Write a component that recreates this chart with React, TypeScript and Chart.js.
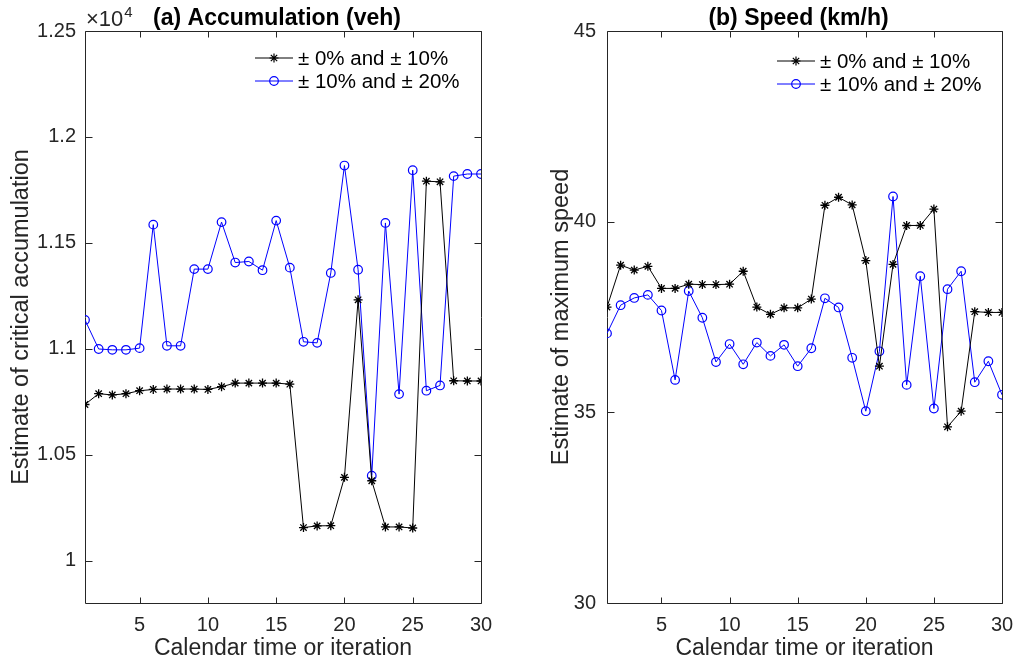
import React, { useEffect, useRef } from "react";
import { Chart, registerables } from "chart.js";
import { drawPoint } from "chart.js/helpers";

Chart.register(...registerables);

// Calendar time / iteration index
const iterations = [
  1, 2, 3, 4, 5, 6, 7, 8, 9, 10, 11, 12, 13, 14, 15,
  16, 17, 18, 19, 20, 21, 22, 23, 24, 25, 26, 27, 28, 29, 30,
];
const xTicks = [5, 10, 15, 20, 25, 30];

// (a) critical accumulation estimates (veh)
const accumNarrow = [
  10737, 10788, 10782, 10788, 10802, 10808, 10810, 10810, 10810, 10808,
  10821, 10838, 10838, 10838, 10838, 10833, 10156, 10164, 10165, 10393,
  11231, 10377, 10159, 10159, 10154, 11791, 11788, 10849, 10848, 10848,
];
const accumWide = [
  11136, 10999, 10995, 10995, 11003, 11586, 11014, 11014, 11376, 11376,
  11598, 11407, 11412, 11371, 11605, 11383, 11033, 11028, 11358, 11865,
  11373, 10401, 11594, 10786, 11843, 10802, 10827, 11815, 11825, 11825,
];
const accumTicks = [10000, 10500, 11000, 11500, 12000, 12500];

// (b) maximum speed estimates (km/h)
const speedNarrow = [
  37.76, 38.86, 38.73, 38.83, 38.25, 38.25, 38.36, 38.35, 38.35, 38.36,
  38.7, 37.76, 37.57, 37.74, 37.74, 37.97, 40.43, 40.64, 40.44, 38.98,
  36.21, 38.88, 39.9, 39.9, 40.33, 34.62, 35.03, 37.64, 37.62, 37.62,
];
const speedWide = [
  37.07, 37.81, 38.0, 38.08, 37.67, 35.85, 38.18, 37.48, 36.32, 36.79,
  36.26, 36.83, 36.48, 36.77, 36.21, 36.68, 37.99, 37.75, 36.43, 35.03,
  36.6, 40.66, 35.72, 38.57, 35.1, 38.23, 38.7, 35.79, 36.34, 35.46,
];
const speedTicks = [30, 35, 40, 45];

const seriesLabels = ["\u00b1 0% and \u00b1 10%", "\u00b1 10% and \u00b1 20%"];

const FONT = '"Liberation Sans", Arial, Helvetica, sans-serif';
const AXIS_COLOR = "#262626";

type PanelOptions = {
  title: string;
  yTitle: string;
  exponent?: string;
  legendX: number;
  legendY: number;
};

// Box with inward ticks on all four sides, title, exponent label and legend
const panelPlugin = {
  id: "panel",
  beforeDatasetsDraw(chart: any) {
    const { ctx, chartArea, scales } = chart;
    const { left, right, top, bottom } = chartArea;
    ctx.save();
    ctx.strokeStyle = AXIS_COLOR;
    ctx.lineWidth = 1;
    const L = Math.round(left) + 0.5;
    const R = Math.round(right) + 0.5;
    const T = Math.round(top) + 0.5;
    const B = Math.round(bottom) + 0.5;
    ctx.beginPath();
    ctx.rect(L, T, R - L, B - T);
    ctx.stroke();
    ctx.beginPath();
    for (const t of scales.x.ticks) {
      const px = Math.round(scales.x.getPixelForValue(t.value)) + 0.5;
      ctx.moveTo(px, B);
      ctx.lineTo(px, B - 6);
      ctx.moveTo(px, T);
      ctx.lineTo(px, T + 6);
    }
    for (const t of scales.y.ticks) {
      const py = Math.round(scales.y.getPixelForValue(t.value)) + 0.5;
      ctx.moveTo(L, py);
      ctx.lineTo(L + 7, py);
      ctx.moveTo(R, py);
      ctx.lineTo(R - 7, py);
    }
    ctx.stroke();
    ctx.restore();
  },
  afterDraw(chart: any, _args: any, opts: PanelOptions) {
    const { ctx, chartArea } = chart;
    const { left, right, top } = chartArea;
    ctx.save();
    // panel title
    ctx.fillStyle = "#000";
    ctx.font = `bold 23px ${FONT}`;
    ctx.textAlign = "center";
    ctx.textBaseline = "alphabetic";
    ctx.fillText(opts.title, (left + right) / 2 - 6, 25);
    // exponent label
    if (opts.exponent) {
      ctx.fillStyle = AXIS_COLOR;
      ctx.textAlign = "left";
      ctx.font = `22px ${FONT}`;
      const base = "\u00d710";
      ctx.fillText(base, left + 1, 26);
      const w = ctx.measureText(base).width;
      ctx.font = `15px ${FONT}`;
      ctx.fillText(opts.exponent, left + 2 + w, 17);
    }
    // legend: line segment with marker, then label
    chart.data.datasets.forEach((ds: any, i: number) => {
      const y = top + opts.legendY + i * 23;
      const x0 = left + opts.legendX;
      ctx.strokeStyle = ds.borderColor;
      ctx.lineWidth = 1;
      ctx.beginPath();
      ctx.moveTo(x0, y);
      ctx.lineTo(x0 + 38, y);
      ctx.stroke();
      ctx.fillStyle = "rgba(0,0,0,0)";
      ctx.lineWidth = 1.2;
      drawPoint(ctx, { pointStyle: ds.pointStyle, radius: ds.pointRadius, rotation: 0, borderWidth: 1.2 }, x0 + 19, y);
      ctx.fillStyle = "#000";
      ctx.font = `20.5px ${FONT}`;
      ctx.textAlign = "left";
      ctx.textBaseline = "middle";
      ctx.fillText(ds.label, x0 + 43, y + 1);
    });
    ctx.restore();
  },
};

type PanelProps = {
  narrow: number[];
  wide: number[];
  yMin: number;
  yMax: number;
  yTicks: number[];
  tickFormat: (v: number) => string;
  yAxisWidth: number;
  rightPad: number;
  yTitlePad: number;
  tickPad: number;
  plugin: PanelOptions;
};

function Panel(props: PanelProps) {
  const ref = useRef<HTMLCanvasElement>(null);
  useEffect(() => {
    if (!ref.current) return;
    const toPoints = (arr: number[]) => iterations.map((x, i) => ({ x, y: arr[i] }));
    const chart = new Chart(ref.current, {
      type: "line",
      data: {
        datasets: [
          {
            label: seriesLabels[0],
            data: toPoints(props.narrow),
            borderColor: "#000000",
            backgroundColor: "rgba(0,0,0,0)",
            borderWidth: 1,
            pointStyle: "star",
            pointRadius: 4.5,
            pointBorderWidth: 1.3,
            pointBorderColor: "#000000",
            pointBackgroundColor: "rgba(0,0,0,0)",
            tension: 0,
          },
          {
            label: seriesLabels[1],
            data: toPoints(props.wide),
            borderColor: "#0000ff",
            backgroundColor: "rgba(0,0,0,0)",
            borderWidth: 1,
            pointStyle: "circle",
            pointRadius: 4.3,
            pointBorderWidth: 1.2,
            pointBorderColor: "#0000ff",
            pointBackgroundColor: "rgba(0,0,0,0)",
            tension: 0,
          },
        ],
      },
      options: {
        responsive: false,
        animation: false,
        events: [],
        layout: { padding: { top: 31, right: props.rightPad, left: 0, bottom: 0 } },
        plugins: {
          legend: { display: false },
          title: { display: false },
          tooltip: { enabled: false },
          panel: props.plugin,
        } as any,
        scales: {
          x: {
            type: "linear",
            min: 1,
            max: 30,
            grid: { display: false, drawTicks: false },
            border: { display: false },
            afterBuildTicks: (s: any) => {
              s.ticks = xTicks.map((v) => ({ value: v }));
            },
            afterFit: (s: any) => {
              s.height = 63;
              s.paddingLeft = 0;
              s.paddingRight = 0;
            },
            ticks: {
              color: AXIS_COLOR,
              font: { family: FONT, size: 20 },
              padding: 10,
              maxRotation: 0,
              autoSkip: false,
            },
            title: {
              display: true,
              text: "Calendar time or iteration",
              color: AXIS_COLOR,
              font: { family: FONT, size: 23 },
              padding: { top: 0, bottom: 4 },
            },
          },
          y: {
            type: "linear",
            min: props.yMin,
            max: props.yMax,
            grid: { display: false, drawTicks: false },
            border: { display: false },
            afterBuildTicks: (s: any) => {
              s.ticks = props.yTicks.map((v) => ({ value: v }));
            },
            afterFit: (s: any) => {
              s.width = props.yAxisWidth;
            },
            ticks: {
              color: AXIS_COLOR,
              font: { family: FONT, size: 20 },
              padding: props.tickPad,
              autoSkip: false,
              callback: (v: any) => props.tickFormat(Number(v)),
            },
            title: {
              display: true,
              text: props.plugin.yTitle,
              color: AXIS_COLOR,
              font: { family: FONT, size: 23.5 },
              padding: { top: props.yTitlePad, bottom: 0 },
            },
          },
        },
      },
      plugins: [panelPlugin as any],
    });
    return () => chart.destroy();
  }, []);
  return <canvas ref={ref} width={509} height={666} style={{ width: 509, height: 666, display: "block" }} />;
}

export default function App() {
  return (
    <div style={{ position: "relative", width: 1018, height: 666, background: "#fff", overflow: "hidden" }}>
      <style>{"body{margin:0;background:#fff}"}</style>
      <div style={{ position: "absolute", left: 0, top: 0 }}>
        <Panel
          narrow={accumNarrow}
          wide={accumWide}
          yMin={9800}
          yMax={12500}
          yTicks={accumTicks}
          tickFormat={(v) => String(v / 10000)}
          yAxisWidth={85}
          rightPad={28}
          yTitlePad={7}
          tickPad={9}
          plugin={{
            title: "(a) Accumulation (veh)",
            yTitle: "Estimate of critical accumulation",
            exponent: "4",
            legendX: 170,
            legendY: 27,
          }}
        />
      </div>
      <div style={{ position: "absolute", left: 509, top: 0 }}>
        <Panel
          narrow={speedNarrow}
          wide={speedWide}
          yMin={30}
          yMax={45}
          yTicks={speedTicks}
          tickFormat={(v) => String(v)}
          yAxisWidth={98}
          rightPad={16}
          yTitlePad={38}
          tickPad={11}
          plugin={{
            title: "(b) Speed (km/h)",
            yTitle: "Estimate of maximum speed",
            legendX: 170,
            legendY: 30,
          }}
        />
      </div>
    </div>
  );
}
